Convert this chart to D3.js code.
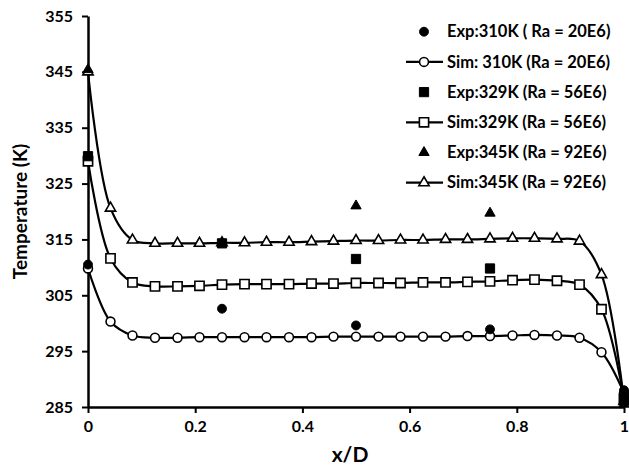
<!DOCTYPE html>
<html>
<head>
<meta charset="utf-8">
<script src="https://cdn.jsdelivr.net/npm/d3@7"></script>
<style>
  body { margin: 0; background: #fff; }
  text { font-family: Lato, "Open Sans", sans-serif; font-weight: bold; fill: #000; }
</style>
</head>
<body>
<div class="vis-chart"></div>
<script>
// simulation sample positions (x/D)
const simX = [0, 0.042, 0.083, 0.125, 0.167, 0.208, 0.25, 0.292, 0.333, 0.375, 0.417, 0.458,
  0.5, 0.542, 0.583, 0.625, 0.667, 0.708, 0.75, 0.792, 0.833, 0.875, 0.917, 0.958, 1];
const sim310 = [309.8, 300.3, 297.8, 297.4, 297.4, 297.5, 297.5, 297.5, 297.5, 297.5, 297.5, 297.6,
  297.6, 297.6, 297.6, 297.6, 297.6, 297.7, 297.7, 297.8, 297.9, 297.8, 297.4, 294.8, 287.5];
const sim329 = [329.0, 311.6, 307.3, 306.6, 306.6, 306.7, 306.9, 307.0, 307.0, 307.0, 307.1, 307.1,
  307.2, 307.2, 307.2, 307.3, 307.3, 307.4, 307.5, 307.7, 307.8, 307.6, 306.9, 302.5, 286.5];
const sim345 = [345.0, 320.6, 314.9, 314.3, 314.3, 314.3, 314.4, 314.4, 314.5, 314.5, 314.6, 314.7,
  314.8, 314.8, 314.9, 314.9, 315.0, 315.0, 315.1, 315.2, 315.2, 315.1, 314.7, 308.7, 286.0];

// experimental measurements (null = no measurement)
const expX = [0, 0.25, 0.5, 0.75, 1];
const exp310 = [310.5, 302.6, 299.6, 298.9, 288.0];
const exp329 = [329.9, 314.3, 311.5, 309.8, 286.5];
const exp345 = [345.4, null, 321.0, 319.7, 285.5];

const xTicks = [0, 0.2, 0.4, 0.6, 0.8, 1];
const yTicks = [285, 295, 305, 315, 325, 335, 345, 355];

const legendLabels = [
  'Exp:310K ( Ra = 20E6)',
  'Sim: 310K (Ra = 20E6)',
  'Exp:329K (Ra = 56E6)',
  'Sim:329K (Ra = 56E6)',
  'Exp:345K (Ra = 92E6)',
  'Sim:345K (Ra = 92E6)',
];

const width = 629;
const height = 469;
const margin = { top: 16, right: 5, bottom: 62, left: 88 };

const svg = d3.select('.vis-chart')
  .append('svg')
  .attr('width', width)
  .attr('height', height);

const x = d3.scaleLinear().domain([0, 1]).range([margin.left, width - margin.right]);
const y = d3.scaleLinear().domain([285, 355]).range([height - margin.bottom, margin.top]);

// axes
const xAxis = svg.append('g')
  .attr('transform', `translate(0,${y(285)})`)
  .call(d3.axisBottom(x).tickValues(xTicks).tickSize(6).tickSizeOuter(0).tickPadding(8)
    .tickFormat((d) => d3.format('')(d)));
const yAxis = svg.append('g')
  .attr('transform', `translate(${x(0)},0)`)
  .call(d3.axisLeft(y).tickValues(yTicks).tickSize(6).tickSizeOuter(0).tickPadding(9));

[xAxis, yAxis].forEach((g) => {
  g.select('.domain').attr('stroke', '#000').attr('stroke-width', 2.5);
  g.selectAll('.tick line').attr('stroke', '#000').attr('stroke-width', 2);
  g.selectAll('.tick text').attr('font-size', 16).attr('font-family', 'Lato').attr('font-weight', 'bold');
});

svg.append('text')
  .attr('x', 350)
  .attr('y', 462)
  .attr('text-anchor', 'middle')
  .attr('font-size', 21)
  .text('x/D');

svg.append('text')
  .attr('transform', `translate(27,${(y(285) + y(355)) / 2}) rotate(-90)`)
  .attr('text-anchor', 'middle')
  .attr('font-size', 19)
  .text('Temperature (K)');

// marker shapes
const sym = {
  circle: d3.symbol().type(d3.symbolCircle).size(62),
  square: d3.symbol().type(d3.symbolSquare).size(85),
  triangle: d3.symbol().type(d3.symbolTriangle).size(46),
};

const line = d3.line()
  .x((d) => x(d[0]))
  .y((d) => y(d[1]))
  .curve(d3.curveCatmullRom.alpha(0.5));

const series = [
  { sim: sim310, exp: exp310, shape: 'circle' },
  { sim: sim329, exp: exp329, shape: 'square' },
  { sim: sim345, exp: exp345, shape: 'triangle' },
];

series.forEach((s) => {
  const pts = simX.map((v, i) => [v, s.sim[i]]);
  svg.append('path')
    .attr('d', line(pts))
    .attr('fill', 'none')
    .attr('stroke', '#000')
    .attr('stroke-width', 2.2);

  svg.append('g').selectAll('path')
    .data(pts)
    .enter()
    .append('path')
    .attr('d', sym[s.shape])
    .attr('transform', (d) => `translate(${x(d[0])},${y(d[1])})`)
    .attr('fill', '#fff')
    .attr('stroke', '#000')
    .attr('stroke-width', 1.6);
});

series.forEach((s) => {
  svg.append('g').selectAll('path')
    .data(expX.map((v, i) => [v, s.exp[i]]).filter((d) => d[1] != null))
    .enter()
    .append('path')
    .attr('d', sym[s.shape])
    .attr('transform', (d) => `translate(${x(d[0])},${y(d[1])})`)
    .attr('fill', '#000')
    .attr('stroke', '#000')
    .attr('stroke-width', 1);
});

// legend
const legend = svg.append('g');
const legendRows = [
  { shape: 'circle', filled: true },
  { shape: 'circle', filled: false },
  { shape: 'square', filled: true },
  { shape: 'square', filled: false },
  { shape: 'triangle', filled: true },
  { shape: 'triangle', filled: false },
];

legendRows.forEach((r, i) => {
  const ly = 31.7 + i * 30.2;
  if (!r.filled) {
    legend.append('line')
      .attr('x1', 406).attr('x2', 443)
      .attr('y1', ly).attr('y2', ly)
      .attr('stroke', '#000')
      .attr('stroke-width', 2.2);
  }
  legend.append('path')
    .attr('d', sym[r.shape])
    .attr('transform', `translate(424,${ly})`)
    .attr('fill', r.filled ? '#000' : '#fff')
    .attr('stroke', '#000')
    .attr('stroke-width', r.filled ? 1 : 1.6);
  legend.append('text')
    .attr('x', 447)
    .attr('y', ly)
    .attr('dy', '0.35em')
    .attr('font-size', 16.5)
    .text(legendLabels[i]);
});
</script>
</body>
</html>
